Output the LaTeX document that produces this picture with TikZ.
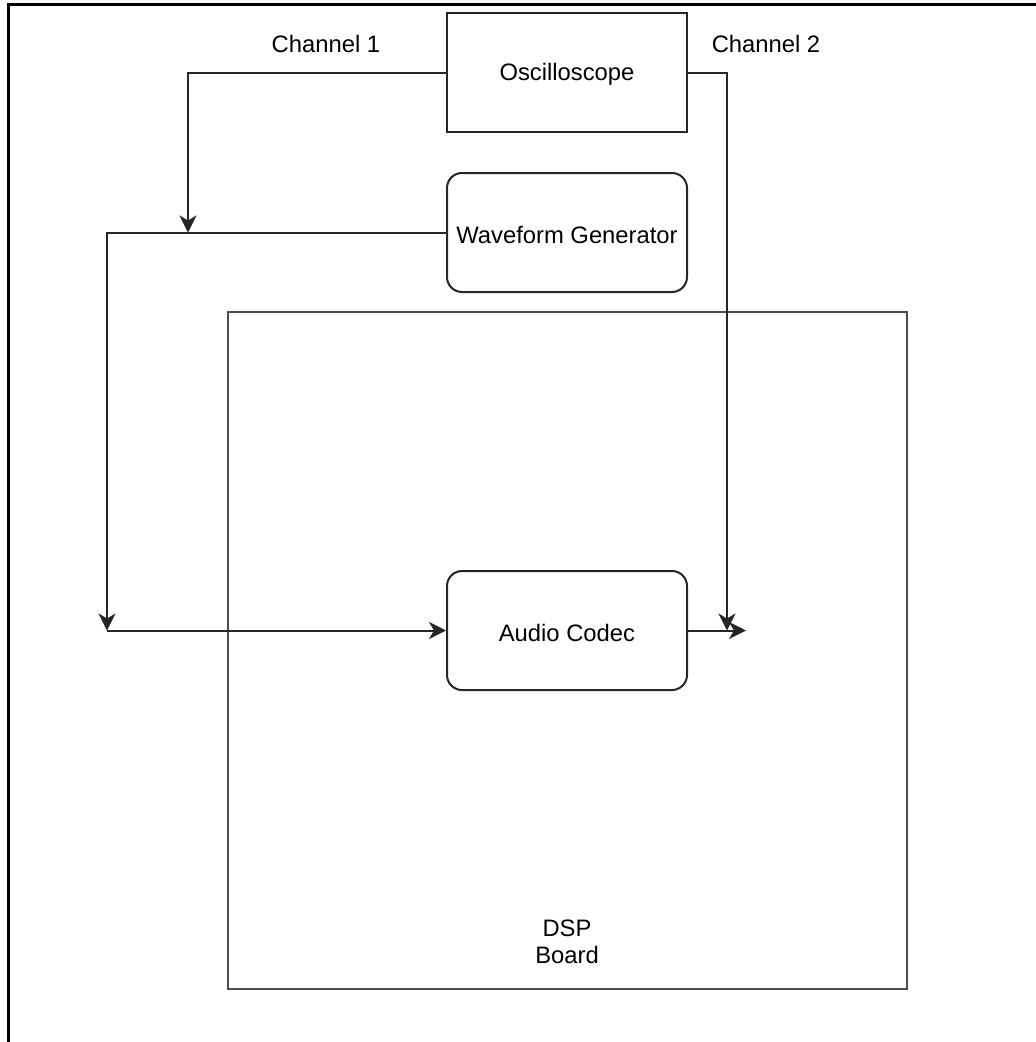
\documentclass[tikz,border=0pt]{standalone}
\usepackage{fontspec}
\setmainfont{Liberation Sans}
\usetikzlibrary{arrows.meta}
\begin{document}
\begin{tikzpicture}[x=1pt,y=-1pt,
  font=\fontsize{23.8}{27}\selectfont,
  box/.style={draw=black!85, line width=2pt, minimum width=240pt, minimum height=119pt, inner sep=0pt},
  rbox/.style={box, rounded corners=15pt},
  conn/.style={draw=black!85, line width=2pt},
  arr/.style={conn, -{Stealth[length=17pt,width=17pt,inset=5pt]}}]
\useasboundingbox (0,0) rectangle (1036,1042);
% frame
\draw[line width=3pt] (8,1042) -- (8,4.5) -- (1036,4.5);
% nodes
\node[box, draw=black!70, minimum width=679pt, minimum height=677pt] (dsp) at (567.5,650.5) {};
\node[align=center] (dsplbl) at (567,942) {DSP\\Board};
\node[box] (osc) at (567,72.5) {};
\node[rbox] (wave) at (567,232.5) {};
\node[rbox] (codec) at (567,630.5) {};
\node (osct) at (567,74.5) {Oscilloscope};
\node (wavet) at (567,234.5) {Waveform Generator};
\node (codect) at (567,632.5) {Audio Codec};
\node (ch1) at (326,44) {Channel 1};
\node (ch2) at (766,44) {Channel 2};
\coordinate (a1) at (188,232.5);
\coordinate (a2) at (107,630.5);
\coordinate (a3) at (727,630.5);
\coordinate (a4) at (746,630.5);
% connectors
\draw[arr] (osc.west |- 0,73) -| (a1);
\draw[arr] (wave.west) -| (a2);
\draw[arr] (a2) -- (codec.west);
\draw[arr] (osc.east |- 0,73) -| (a3);
\draw[arr] (codec.east) -- (a4);
\end{tikzpicture}
\end{document}
